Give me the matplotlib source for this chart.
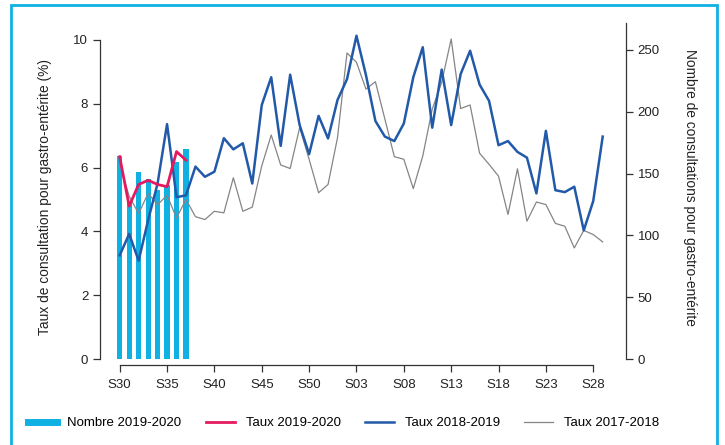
import matplotlib
matplotlib.use('Agg')
import matplotlib.pyplot as plt
from matplotlib.patches import Rectangle
from matplotlib.lines import Line2D
import numpy as np

plt.rcParams['font.family'] = ['Liberation Sans', 'DejaVu Sans']

# semaines S30 -> S29
weeks = ['S30', 'S31', 'S32', 'S33', 'S34', 'S35', 'S36', 'S37', 'S38', 'S39',
         'S40', 'S41', 'S42', 'S43', 'S44', 'S45', 'S46', 'S47', 'S48', 'S49',
         'S50', 'S51', 'S52', 'S01', 'S02', 'S03', 'S04', 'S05', 'S06', 'S07',
         'S08', 'S09', 'S10', 'S11', 'S12', 'S13', 'S14', 'S15', 'S16', 'S17',
         'S18', 'S19', 'S20', 'S21', 'S22', 'S23', 'S24', 'S25', 'S26', 'S27',
         'S28', 'S29']
tick_labels = ['S30', 'S35', 'S40', 'S45', 'S50', 'S03', 'S08', 'S13', 'S18', 'S23', 'S28']

# nombre de consultations 2019-2020 (axe droit)
nombre_2019_2020 = [164, 127, 151, 146, 137, 141, 159, 170]
# taux (axe gauche, %)
taux_2019_2020 = [6.34, 4.79, 5.47, 5.60, 5.47, 5.40, 6.50, 6.23]
taux_2018_2019 = [3.25, 3.92, 3.08, 4.35, 5.50, 7.36, 5.07, 5.13, 6.03, 5.71,
                  5.87, 6.92, 6.57, 6.76, 5.50, 7.96, 8.83, 6.68, 8.91, 7.33,
                  6.42, 7.62, 6.91, 8.12, 8.77, 10.13, 8.90, 7.46, 6.97, 6.83,
                  7.38, 8.83, 9.77, 7.25, 9.07, 7.33, 8.93, 9.66, 8.60, 8.09,
                  6.70, 6.83, 6.49, 6.31, 5.19, 7.15, 5.29, 5.23, 5.40, 4.03,
                  4.95, 6.97]
taux_2017_2018 = [6.10, 5.10, 4.56, 5.19, 4.84, 5.13, 4.42, 5.00, 4.46, 4.37,
                  4.63, 4.58, 5.68, 4.63, 4.76, 6.05, 7.02, 6.08, 5.97, 7.25,
                  6.26, 5.21, 5.47, 6.94, 9.59, 9.30, 8.46, 8.69, 7.52, 6.34,
                  6.26, 5.34, 6.36, 7.83, 8.67, 10.03, 7.85, 7.96, 6.45, 6.10,
                  5.73, 4.53, 5.96, 4.32, 4.92, 4.84, 4.25, 4.16, 3.48, 4.03,
                  3.90, 3.67]

cyan = '#0FB1E3'
red = '#E5195E'
blue = '#2259A8'
gray = '#858585'
dark = '#333333'

x = np.arange(len(weeks))

fig = plt.figure(figsize=(7.25, 4.45), dpi=100)
ax = fig.add_axes([100/725, 1-365/445, 526/725, 342/445])
ax2 = ax.twinx()

# barres derriere les courbes
ax.set_zorder(ax2.get_zorder() + 1)
ax.patch.set_visible(False)

ax2.bar(x[:len(nombre_2019_2020)], nombre_2019_2020, width=0.55, color=cyan)
ax.plot(x, taux_2017_2018, color=gray, lw=0.9)
ax.plot(x, taux_2018_2019, color=blue, lw=1.8)
ax.plot(x[:len(taux_2019_2020)], taux_2019_2020, color=red, lw=2.0)

ax.set_xlim(-2.08, 53.46)
ax.set_ylim(-0.188, 10.53)
ax2.set_ylim(-0.188*25.81, 10.53*25.81)

ax.set_xticks(x[::5][:len(tick_labels)])
ax.set_xticklabels(tick_labels)
ax.set_yticks(range(0, 11, 2))
ax2.set_yticks(range(0, 251, 50))

for a in (ax, ax2):
    a.spines['top'].set_visible(False)
    for s in a.spines.values():
        s.set_color(dark)
        s.set_linewidth(0.9)
    a.tick_params(colors=dark, labelcolor='#222222', labelsize=9.5, length=5, width=0.9)
ax.spines['right'].set_visible(False)
ax.spines['left'].set_bounds(0, 10)
ax.spines['bottom'].set_bounds(0, 50)
ax2.spines['left'].set_visible(False)
ax2.spines['bottom'].set_visible(False)
ax2.spines['right'].set_bounds(0, 10.53*25.81)
ax.tick_params(axis='x', pad=5)

ax.set_ylabel('Taux de consultation pour gastro-entérite (%)', fontsize=9.9, color='#222222')
ax.yaxis.set_label_coords(-0.092, 0.49)
ax2.set_ylabel('Nombre de consultations pour gastro-entérite', fontsize=9.9,
               color='#222222', rotation=270, va='center')
ax2.yaxis.set_label_coords(1.122, 0.52)

handles = [Line2D([0], [0], color=cyan, lw=5),
           Line2D([0], [0], color=red, lw=2),
           Line2D([0], [0], color=blue, lw=1.8),
           Line2D([0], [0], color=gray, lw=0.9)]
labels = ['Nombre 2019-2020', 'Taux 2019-2020', 'Taux 2018-2019', 'Taux 2017-2018']
fig.legend(handles, labels, loc='center left', bbox_to_anchor=(16/725, 1-423/445),
           ncol=4, frameon=False, fontsize=9.5, handlelength=2.2, columnspacing=1.85,
           handletextpad=0.8)

fig.add_artist(Rectangle((11/725, -0.05), 706/725, 1.05 - 5/445,
                         transform=fig.transFigure, fill=False,
                         edgecolor=cyan, lw=2))

fig.savefig('out.png', dpi=100)
